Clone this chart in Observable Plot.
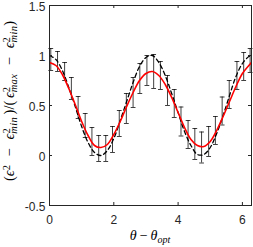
<!DOCTYPE html>
<html><head><meta charset="utf-8">
<script src="https://cdn.jsdelivr.net/npm/d3@7"></script>
<script src="https://cdn.jsdelivr.net/npm/@observablehq/plot@0.6"></script>
<style>body{margin:0;background:#fff}</style>
</head><body><div id="chart"></div>
<script>
// measured data (error bars)
const dataX = [0.04,0.25,0.47,0.68,0.89,1.11,1.32,1.53,1.75,1.96,2.17,2.39,2.60,2.81,3.03,3.24,3.45,3.67,3.88,4.09,4.31,4.52,4.73,4.95,5.16,5.37,5.59,5.83,6.04,6.24];
const dataY = [0.96,0.94,0.84,0.67,0.48,0.30,0.14,0.07,0.07,0.16,0.32,0.47,0.63,0.77,0.85,0.84,0.80,0.65,0.52,0.34,0.21,0.115,0.08,0.14,0.25,0.445,0.61,0.80,0.89,0.95];
const dataErr = [0.11,0.10,0.09,0.11,0.11,0.12,0.14,0.13,0.13,0.13,0.13,0.15,0.15,0.15,0.15,0.17,0.14,0.15,0.14,0.145,0.14,0.155,0.155,0.15,0.14,0.14,0.14,0.14,0.14,0.12];
// dashed reference curve
const theoryX = [0,0.2,0.4,0.6,0.8,1.0,1.2,1.4,1.6,1.8,2.0,2.2,2.4,2.6,2.8,3.0,3.2,3.4,3.6,3.8,4.0,4.2,4.4,4.6,4.8,5.0,5.2,5.4,5.6,5.8,6.0,6.2,6.28];
const theoryY = [1.00,0.96,0.85,0.68,0.49,0.29,0.13,0.03,0.00,0.05,0.17,0.35,0.54,0.73,0.89,0.98,1.00,0.93,0.80,0.62,0.43,0.24,0.10,0.01,0.01,0.08,0.22,0.40,0.60,0.79,0.92,0.99,1.00];
// red fit curve
const fitX = [0,0.2,0.4,0.6,0.8,1.0,1.2,1.4,1.6,1.8,2.0,2.2,2.4,2.6,2.8,3.0,3.2,3.4,3.6,3.8,4.0,4.2,4.4,4.6,4.8,5.0,5.2,5.4,5.6,5.8,6.0,6.2,6.28];
const fitY = [0.93,0.90,0.81,0.67,0.51,0.34,0.20,0.10,0.08,0.11,0.21,0.34,0.49,0.63,0.75,0.82,0.84,0.80,0.71,0.58,0.43,0.28,0.16,0.10,0.09,0.14,0.25,0.39,0.54,0.69,0.82,0.90,0.93];
// ticks
const xTicks = [0,2,4,6];
const xTickLabels = ["0","2","4","6"];
const yTicks = [-0.5,0,0.5,1,1.5];
const yTickLabels = ["-0.5","0","0.5","1","1.5"];

const W = 253, H = 247;
const mL = 49, mR = 2, mT = 5, mB = 42;
const pw = W - mL - mR, ph = H - mT - mB;
const xDom = [0, 2*Math.PI];
const capHalf = 2.4 * (xDom[1]-xDom[0]) / pw;
const ink = "#262626";

const data = dataX.map((x,i)=>({x, y: dataY[i], e: dataErr[i]}));
const theory = theoryX.map((x,i)=>({x, y: theoryY[i]}));
const fit = fitX.map((x,i)=>({x, y: fitY[i]}));

const svg = Plot.plot({
  width: W, height: H,
  marginLeft: mL, marginRight: mR, marginTop: mT, marginBottom: mB,
  style: {fontFamily: "'Liberation Sans', Arial, Helvetica, sans-serif", fontSize: "12px", color: ink, background: "#fff", overflow: "visible"},
  x: {domain: xDom},
  y: {domain: [-0.5, 1.5]},
  marks: [
    Plot.ruleX(data, {x: "x", y1: d=>d.y-d.e, y2: d=>d.y+d.e, stroke: "#000", strokeWidth: 0.75}),
    Plot.link(data, {x1: d=>d.x-capHalf, x2: d=>d.x+capHalf, y1: d=>d.y+d.e, y2: d=>d.y+d.e, stroke: "#000", strokeWidth: 0.75}),
    Plot.link(data, {x1: d=>d.x-capHalf, x2: d=>d.x+capHalf, y1: d=>d.y-d.e, y2: d=>d.y-d.e, stroke: "#000", strokeWidth: 0.75}),
    Plot.line(theory, {x: "x", y: "y", stroke: "#000", strokeWidth: 1.3, strokeDasharray: "4,3", curve: "catmull-rom", clip: true}),
    Plot.line(fit, {x: "x", y: "y", stroke: "#ff0000", strokeWidth: 1.6, curve: "catmull-rom", clip: true}),
    Plot.tickX(xTicks, {x: d=>d, insetTop: ph-3, stroke: ink}),
    Plot.tickX(xTicks, {x: d=>d, insetBottom: ph-3, stroke: ink}),
    Plot.tickY(yTicks, {y: d=>d, insetRight: pw-3, stroke: ink}),
    Plot.tickY(yTicks, {y: d=>d, insetLeft: pw-3, stroke: ink}),
    Plot.axisX(xTicks, {tickSize: 0, tickPadding: 10, tickFormat: (d,i)=>xTickLabels[i], label: null, fontSize: 12}),
    Plot.axisY(yTicks, {tickSize: 0, tickPadding: 4, dy: 2, tickFormat: (d,i)=>yTickLabels[i], label: null, fontSize: 12}),
    Plot.frame({stroke: ink, strokeWidth: 1})
  ]
});
document.getElementById("chart").appendChild(svg);

const sel = d3.select(svg);
const serif = "'Liberation Serif', 'DejaVu Serif', serif";
// x label
const xl = sel.append("text").attr("x", mL + pw/2).attr("y", 240).attr("text-anchor","middle")
  .attr("font-family", serif).attr("font-size", 14).attr("fill", "#000");
xl.append("tspan").attr("font-style","italic").text("θ");
xl.append("tspan").attr("dx", 3).text("−");
xl.append("tspan").attr("dx", 3).attr("font-style","italic").text("θ");
xl.append("tspan").attr("font-style","italic").attr("font-size", 10).attr("dy", 3).text("opt");

// y label
const yl = sel.append("text").attr("transform", `translate(14,101) rotate(-90)`).attr("text-anchor","middle")
  .attr("font-family", serif).attr("font-size", 14.5).attr("fill", "#000");
const gaps = []; // [tspan, weight]
function eps(sub, w) {
  const e = yl.append("tspan").attr("font-style","italic").text("ϵ");
  if (w) gaps.push([e, w]);
  yl.append("tspan").attr("font-size", 10.5).attr("dy", -4).text("2");
  if (sub) {
    yl.append("tspan").attr("font-size", 10.5).attr("font-style","italic").attr("dx", -5.3).attr("dy", 7).attr("letter-spacing", 0.3).text(sub);
    return -3;
  }
  return 4;
}
function minus(back) {
  const m = yl.append("tspan").attr("dy", back).text("−");
  gaps.push([m, 2]);
}
yl.append("tspan").text("(");
let back = eps(null, 0);
minus(back);
back = eps("min", 2);
const close1 = yl.append("tspan").attr("dy", back).text(")/(");
gaps.push([close1, 0.6]);
back = eps("max", 0.6);
minus(back);
back = eps("min", 2);
yl.append("tspan").attr("dy", back).text(")");
const len = yl.node().getComputedTextLength();
const totalW = gaps.reduce((s, g) => s + g[1], 0);
const unit = Math.max(0, (176 - len) / totalW);
gaps.forEach(([t, w]) => t.attr("dx", w * unit));
</script></body></html>
